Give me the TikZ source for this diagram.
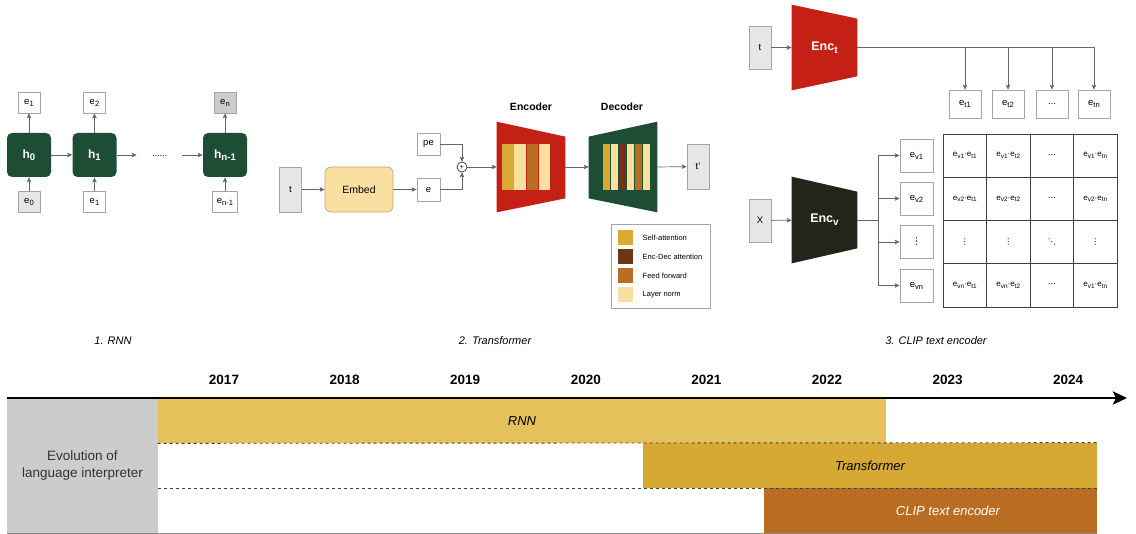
\documentclass[tikz,border=0pt]{standalone}
\usepackage{fontspec}
\usepackage{graphicx}
\setmainfont{Liberation Sans}
\newfontfamily\dejavu{DejaVu Sans}
\usetikzlibrary{arrows,arrows.meta,shapes,positioning,calc,backgrounds}

\definecolor{hgreen}{RGB}{30,77,54}
\definecolor{encred}{RGB}{196,32,22}
\definecolor{encdark}{RGB}{35,36,26}
\definecolor{selfatt}{RGB}{217,169,51}
\definecolor{encdec}{RGB}{111,53,18}
\definecolor{ffwd}{RGB}{185,110,35}
\definecolor{lnorm}{RGB}{250,224,160}
\definecolor{rnngold}{RGB}{229,193,91}
\definecolor{trgold}{RGB}{214,169,53}
\definecolor{clipbrown}{RGB}{184,109,34}
\definecolor{ingray}{RGB}{230,230,230}
\definecolor{midgray}{RGB}{204,204,204}
\definecolor{boxgray}{RGB}{165,165,165}
\definecolor{linegray}{RGB}{102,102,102}
\definecolor{embborder}{RGB}{190,168,118}

\newcommand{\subs}[1]{\raisebox{-0.4ex}{\scalebox{0.8}{#1}}}
\newcommand{\simpair}[2]{e\subs{#1}·e\subs{#2}}

\begin{document}
\begin{tikzpicture}[x=1pt,y=-1pt,>={Stealth[length=5pt,width=4.5pt,inset=1.2pt]},line width=0.7pt]
\tikzstyle{emb}=[draw=boxgray,fill=white,inner sep=0pt,minimum width=22pt,
minimum height=21pt,font=\fontsize{9.5}{11}\selectfont]
\tikzstyle{input}=[emb,fill=ingray,minimum width=22pt,minimum height=44pt]
\tikzstyle{hidden}=[rounded corners=5pt,fill=hgreen,text=white,inner sep=0pt,
minimum width=44pt,minimum height=44pt,font=\fontsize{12}{14}\selectfont\bfseries]
\tikzstyle{conn}=[draw=linegray,->]
\tikzstyle{trap}=[inner sep=0pt,text=white,font=\fontsize{12.5}{14}\selectfont\bfseries]
\tikzstyle{cell}=[draw=black!75,inner sep=0pt,minimum width=43.5pt,
minimum height=43.25pt,font=\fontsize{8}{9}\selectfont]
\tikzstyle{bar}=[inner sep=0pt,font=\fontsize{13}{15}\selectfont\itshape]
\tikzstyle{year}=[font=\fontsize{13.5}{16}\selectfont\bfseries]
\tikzstyle{caption}=[font=\fontsize{11}{13}\selectfont\itshape]
\tikzstyle{legtxt}=[inner sep=0pt,font=\fontsize{7.5}{9}\selectfont]

\useasboundingbox (0,0) rectangle (1136,534);

%RNN
\node[hidden] (H0) at (29,155) {h\subs{0}};
\node[hidden] (H1) at (94.5,155) {h\subs{1}};
\node[inner sep=0pt,minimum width=45pt,font=\fontsize{9}{10}\selectfont] (Dots) at (159.5,155) {\raisebox{-2.5pt}{......}};
\node[hidden] (Hn) at (225,155) {h\subs{n-1}};

\node[emb,fill=ingray] (I0) at (29,201.5) {e\subs{0}};
\node[emb] (I1) at (94.5,201.5) {e\subs{1}};
\node[emb,minimum width=25pt] (In) at (225,201.5) {e\subs{n-1}};
\node[emb] (O1) at (29,102.5) {e\subs{1}};
\node[emb] (O2) at (94.5,102.5) {e\subs{2}};
\node[emb,fill=midgray] (On) at (225,102.5) {e\subs{n}};

\draw[conn] (H0) -- (H1);
\draw[conn] (H1) -- (Dots);
\draw[conn] (Dots) -- (Hn);
\draw[conn] (I0) -- (H0);
\draw[conn] (I1) -- (H1);
\draw[conn] (In) -- (Hn);
\draw[conn] (H0) -- (O1);
\draw[conn] (H1) -- (O2);
\draw[conn] (Hn) -- (On);

%Transformer
\node[input,minimum height=45pt] (T) at (290.5,189.5) {t};
\node[draw=embborder,fill=lnorm,rounded corners=6pt,minimum width=68pt,
minimum height=45pt,font=\fontsize{10.5}{12}\selectfont] (Embed) at (359,189.5) {Embed};
\node[emb,minimum width=23pt,minimum height=23pt] (E) at (428.5,189.5) {e};
\node[emb,minimum width=23pt,minimum height=22pt] (PE) at (428.5,144) {pe};
\node[draw=black!80,circle,inner sep=0pt,minimum size=10pt,
font=\fontsize{7}{8}\selectfont] (Plus) at (462,167) {+};
\node[inner sep=0pt,minimum width=68pt,minimum height=90pt] (Enc) at (531,167) {};
\node[inner sep=0pt,minimum width=68pt,minimum height=90pt] (Dec) at (623,167) {};
\node[input,minimum height=45pt] (Tp) at (698,166.5) {t'};
\node[font=\fontsize{10.5}{12}\selectfont\bfseries] (EncLbl) at (531,107) {Encoder};
\node[font=\fontsize{10.5}{12}\selectfont\bfseries] (DecLbl) at (622,107) {Decoder};

\foreach \col [count=\i from 0] in {selfatt,lnorm,ffwd,lnorm}
  \fill[\col] (502+12.3*\i,144) rectangle ++(11.5,46);
\foreach \col [count=\i from 0] in {selfatt,lnorm,encdec,lnorm,ffwd,lnorm}
  \fill[\col] (603.3+7.96*\i,144) rectangle ++(6.9,46);

\draw[conn] (T) -- (Embed);
\draw[conn] (Embed) -- (E);
\draw[conn] (PE.east) -| (Plus.north);
\draw[conn] (E.east) -| (Plus.south);
\draw[conn] (Plus) -- (Enc.west);
\draw[conn] (Enc.east) -- (Dec.west);
\draw[conn] (Dec.east) -- (Tp);

%legend
\node[draw=boxgray,minimum width=99pt,minimum height=84pt,inner sep=0pt] (Legend) at (660.5,266) {};
\foreach \col/\txt [count=\i] in {selfatt/Self-attention,encdec/Enc-Dec attention,
ffwd/Feed forward,lnorm/Layer norm}{
  \node[fill=\col,minimum size=15pt,inner sep=0pt] (S\i) at (625.5,218.5+19*\i) {};
  \node[legtxt,right=9pt of S\i] (L\i) {\txt};
}

%CLIP text encoder
\node[input,minimum height=43pt] (T2) at (760,47.5) {t};
\node[trap,minimum width=65pt,minimum height=85pt] (EncT) at (824.5,47.5) {Enc\subs{t}};
\node[emb,minimum width=32pt,minimum height=28pt] (Et1) at (965,104) {e\subs{t1}};
\node[emb,minimum width=32pt,minimum height=28pt] (Et2) at (1008,104) {e\subs{t2}};
\node[emb,minimum width=32pt,minimum height=28pt] (Etd) at (1052,104) {...};
\node[emb,minimum width=32pt,minimum height=28pt] (Etn) at (1094,104) {e\subs{tn}};

\node[input,minimum height=43pt] (X) at (760,220.5) {X};
\node[trap,minimum width=65pt,minimum height=86pt] (EncV) at (824.5,220) {Enc\subs{v}};
\node[emb,minimum width=33pt,minimum height=33pt] (Ev1) at (916.5,155.5) {e\subs{v1}};
\node[emb,minimum width=33pt,minimum height=33pt] (Ev2) at (916.5,198.5) {e\subs{v2}};
\node[emb,minimum width=33pt,minimum height=33pt] (Evd) at (916.5,242) {\dejavu ⋮};
\node[emb,minimum width=33pt,minimum height=33pt] (Evn) at (916.5,285.5) {e\subs{vn}};
\coordinate (Split) at (878,220);

\draw[conn] (T2) -- (EncT);
\foreach \n in {Et1,Et2,Etd,Etn}
  \draw[conn] (EncT.east) -| (\n.north);
\draw[conn] (X) -- (EncV);
\draw[draw=linegray] (EncV.east) -- (Split);
\foreach \n in {Ev1,Ev2,Evd,Evn}
  \draw[conn] (Split) |- (\n.west);

\foreach \r/\c/\txt in {1/1/{\simpair{v1}{t1}},1/2/{\simpair{v1}{t2}},1/3/{\dejavu ⋯},1/4/{\simpair{v1}{tn}},
  2/1/{\simpair{v2}{t1}},2/2/{\simpair{v2}{t2}},2/3/{\dejavu ⋯},2/4/{\simpair{v2}{tn}},
  3/1/{\dejavu ⋮},3/2/{\dejavu ⋮},3/3/{\dejavu ⋱},3/4/{\dejavu ⋮},
  4/1/{\simpair{vn}{t1}},4/2/{\simpair{vn}{t2}},4/3/{\dejavu ⋯},4/4/{\simpair{v1}{tn}}}
  \node[cell] (M\r\c) at (943+43.5*\c-21.75,134+43.25*\r-21.625) {\txt};

%captions
\node[caption] (Cap1) at (113,341) {1. RNN};
\node[caption] (Cap2) at (495,341) {2. Transformer};
\node[caption] (Cap3) at (936,341) {3. CLIP text encoder};

%timeline
\node[fill=midgray,minimum width=151pt,minimum height=134pt,inner sep=0pt,align=center,
font=\fontsize{13.5}{17}\selectfont,text=black!80] (Evo) at (82.5,466) {Evolution of\\language interpreter};
\node[bar,fill=rnngold,minimum width=728pt,minimum height=44pt] (RNNbar) at (522,421) {RNN};
\node[bar,fill=trgold,minimum width=454pt,minimum height=45pt] (TRbar) at (870,465.5) {Transformer};
\node[bar,fill=clipbrown,minimum width=333pt,minimum height=45pt] (CLIPbar) at (930.5,510.5) {};
\node[bar,text=white] (CLIPtxt) at (948,510.5) {CLIP text encoder};

\draw[dashed,line width=0.9pt,draw=black!75] (RNNbar.south west) -- (TRbar.north east);
\draw[dashed,line width=0.9pt,draw=black!75] (Evo.east |- TRbar.south) -- (TRbar.south east);
\draw[draw=black!45] (Evo.south west) -- (CLIPbar.south east);

\coordinate (AxisL) at (7,398);
\coordinate (AxisR) at (1127,398);
\draw[line width=2.6pt,-{Stealth[length=14pt,width=13pt,inset=3pt]}] (AxisL) -- (AxisR);
\foreach \yr [count=\i from 0] in {2017,2018,2019,2020,2021,2022,2023,2024}
  \node[year] (Y\yr) at (224+120.6*\i,380) {\yr};

\begin{scope}[on background layer]
\fill[white] (0,0) rectangle (1136,534);
\fill[encred] (Enc.north west) -- ([yshift=-15pt]Enc.north east)
  -- ([yshift=14pt]Enc.south east) -- (Enc.south west) -- cycle;
\fill[hgreen] ([yshift=-15pt]Dec.north west) -- (Dec.north east)
  -- (Dec.south east) -- ([yshift=14pt]Dec.south west) -- cycle;
\fill[encred] (EncT.north west) -- ([yshift=-14pt]EncT.north east)
  -- ([yshift=14pt]EncT.south east) -- (EncT.south west) -- cycle;
\fill[encdark] (EncV.north west) -- ([yshift=-15pt]EncV.north east)
  -- ([yshift=15pt]EncV.south east) -- (EncV.south west) -- cycle;
\end{scope}

\end{tikzpicture}
\end{document}
